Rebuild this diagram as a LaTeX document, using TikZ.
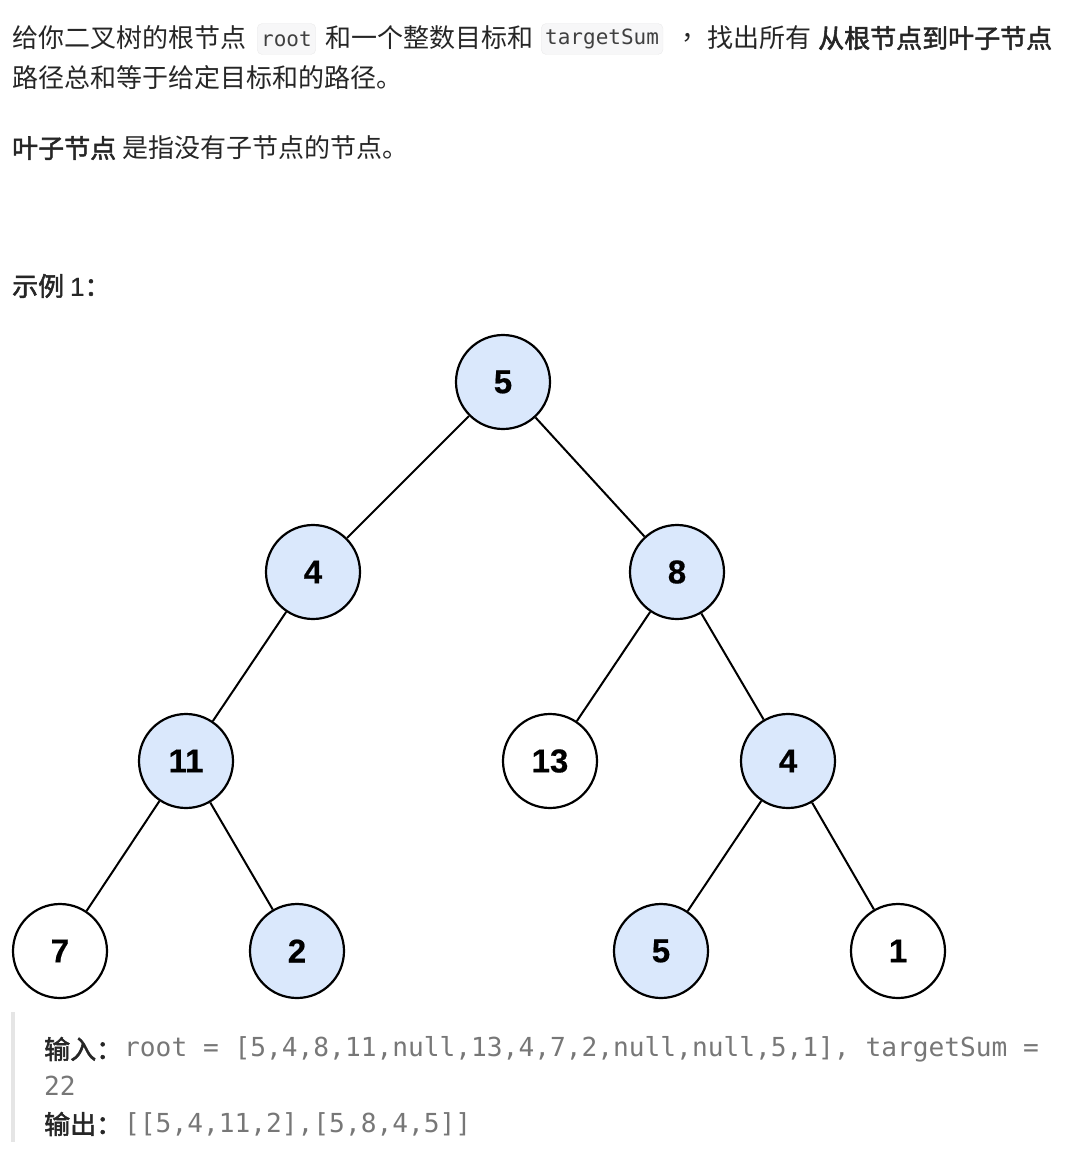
\documentclass[tikz,border=0pt]{standalone}
\usepackage{fontspec}
\setmainfont{Noto Sans CJK SC}
\newfontfamily\cjkb{Noto Sans CJK SC}[FakeBold=2]
\newfontfamily\codef{DejaVu Sans Mono}
\newfontfamily\numf{Liberation Sans}[FakeBold=0.5]
\definecolor{nodeblue}{HTML}{DAE8FC}
\definecolor{codegray}{HTML}{777777}
\definecolor{codebg}{HTML}{F7F7F8}
\begin{document}
\begin{tikzpicture}[x=1pt,y=-1pt,
  txt/.style={anchor=west,inner sep=0pt,font=\fontsize{26}{30}\selectfont,text=black!85},
  btxt/.style={txt,font=\fontsize{26}{30}\selectfont\cjkb},
  code/.style={anchor=west,inner sep=0pt,font=\fontsize{26.2}{30}\selectfont\codef,text=codegray},
  codebox/.style={draw=black!8,fill=codebg,rounded corners=5pt,anchor=west,inner xsep=4pt,minimum height=31pt,font=\fontsize{21}{24}\selectfont\codef,text=black!75},
  tn/.style={circle,draw=black,line width=2.2pt,minimum size=94pt,inner sep=0pt,font=\fontsize{33}{36}\selectfont\bfseries\numf},
  hl/.style={tn,fill=nodeblue},
  pl/.style={tn,fill=white},
  edge/.style={line width=2pt}]
\useasboundingbox (0,0) rectangle (1075,1156);
\node[txt] (t1) at (12,38) {给你二叉树的根节点};
\node[codebox] (c1) at (257,39) {root};
\node[txt] (t2) at (325,38) {和一个整数目标和};
\node[codebox] (c2) at (541,39) {targetSum};
\node[txt] (t3) at (681,38) {，};
\node[txt] (t4) at (707,38) {找出所有};
\node[btxt] (t5) at (818,38) {从根节点到叶子节点};
\node[txt] (t6) at (12,78) {路径总和等于给定目标和的路径。};
\node[btxt] (t7) at (12,148) {叶子节点};
\node[txt] (t8) at (122,148) {是指没有子节点的节点。};
\node[btxt] (t9) at (12,286) {示例 {\numf 1}：};
\node[hl] (n1) at (503,382) {5};
\node[hl] (n2) at (313,572) {4};
\node[hl] (n3) at (677,572) {8};
\node[hl] (n4) at (186,761) {11};
\node[pl] (n5) at (550,761) {13};
\node[hl] (n6) at (788,761) {4};
\node[pl] (n7) at (60,951) {7};
\node[hl] (n8) at (297,951) {2};
\node[hl] (n9) at (661,951) {5};
\node[pl] (n10) at (898,951) {1};
\foreach \a/\b in {n1/n2,n1/n3,n2/n4,n3/n5,n3/n6,n4/n7,n4/n8,n6/n9,n6/n10}
  \draw[edge] (\a) -- (\b);
\fill[black!10] (11,1012) rectangle (15,1142);
\node[btxt] (o1) at (44,1049) {输入：};
\node[code] (o2) at (124,1049) {root = [5,4,8,11,null,13,4,7,2,null,null,5,1], targetSum =};
\node[code] (o3) at (44,1086) {22};
\node[btxt] (o4) at (44,1124) {输出：};
\node[code] (o5) at (124,1124) {[[5,4,11,2],[5,8,4,5]]};
\end{tikzpicture}
\end{document}
